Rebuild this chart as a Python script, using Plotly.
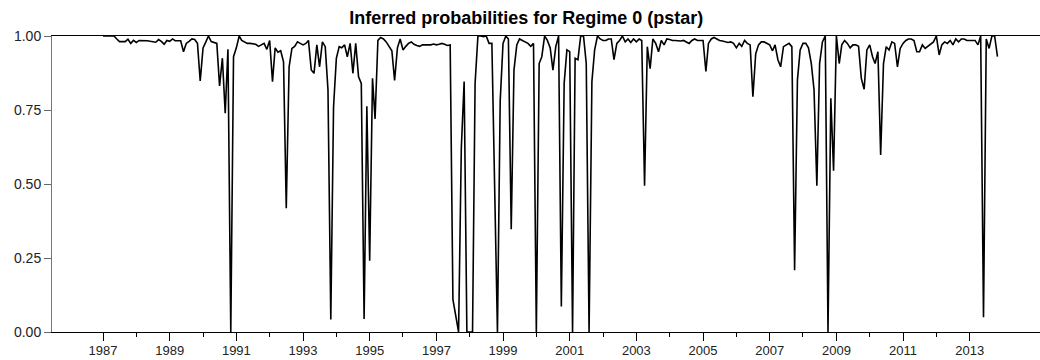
import pandas as pd
import plotly.graph_objects as go

title_text = "Inferred probabilities for Regime 0 (pstar)"
start_month = "1987-01-01"

# Monthly inferred probabilities, 1987:01 - 2013:11 (one list per year)
p1987 = [1.0, 1.0, 1.0, 1.0, 1.0, 0.99, 0.981, 0.981, 0.981, 0.989, 0.975, 0.985]
p1988 = [0.978, 0.985, 0.985, 0.986, 0.984, 0.982, 0.98, 0.979, 0.988, 0.982, 0.972, 0.985]
p1989 = [0.982, 0.99, 0.984, 0.984, 0.984, 0.947, 0.975, 0.982, 0.99, 0.988, 0.975, 0.848]
p1990 = [0.96, 0.98, 1.0, 0.981, 0.978, 0.975, 0.831, 0.925, 0.739, 0.955, 0.0, 0.93]
p1991 = [0.96, 1.0, 0.985, 0.98, 0.975, 0.975, 0.973, 0.972, 0.965, 0.97, 0.975, 0.955]
p1992 = [0.985, 0.846, 0.96, 0.945, 0.95, 0.913, 0.418, 0.896, 0.958, 0.965, 0.98, 0.975]
p1993 = [0.97, 0.975, 0.985, 0.885, 0.874, 0.97, 0.896, 0.98, 0.964, 0.818, 0.042, 0.76]
p1994 = [0.925, 0.964, 0.96, 0.97, 0.93, 0.975, 0.874, 0.975, 0.862, 0.84, 0.044, 0.763]
p1995 = [0.241, 0.857, 0.72, 0.985, 0.995, 0.99, 0.98, 0.965, 0.95, 0.85, 0.96, 0.99]
p1996 = [0.953, 0.965, 0.975, 0.98, 0.972, 0.968, 0.965, 0.97, 0.97, 0.972, 0.97, 0.973]
p1997 = [0.97, 0.972, 0.975, 0.972, 0.968, 0.97, 0.11, 0.055, 0.0, 0.62, 0.846, 0.0]
p1998 = [0.0, 0.0, 0.84, 1.0, 1.0, 0.998, 1.0, 0.975, 0.975, 0.49, 0.0, 0.78]
p1999 = [0.975, 1.0, 0.99, 0.347, 0.885, 0.97, 0.99, 0.985, 0.98, 0.975, 0.965, 0.975]
p2000 = [0.0, 0.907, 0.93, 1.0, 0.985, 0.96, 0.885, 0.964, 1.0, 0.086, 0.84, 0.953]
p2001 = [0.947, 0.0, 0.925, 0.92, 1.0, 1.0, 0.907, 0.0, 0.846, 0.953, 1.0, 0.99]
p2002 = [0.985, 0.985, 0.99, 0.99, 0.92, 0.975, 0.985, 1.0, 0.98, 0.99, 0.978, 0.99]
p2003 = [0.98, 0.99, 0.985, 0.494, 0.964, 0.89, 0.99, 0.975, 0.947, 0.985, 0.97, 0.99]
p2004 = [0.988, 0.985, 0.985, 0.983, 0.983, 0.985, 0.98, 0.975, 0.985, 0.99, 0.985, 0.985]
p2005 = [0.985, 0.88, 0.975, 0.99, 0.995, 0.99, 0.985, 0.983, 0.98, 0.978, 0.98, 0.975]
p2006 = [0.96, 0.975, 0.965, 0.985, 0.975, 0.97, 0.795, 0.94, 0.97, 0.98, 0.98, 0.975]
p2007 = [0.97, 0.95, 0.97, 0.92, 0.896, 0.964, 0.97, 0.975, 0.964, 0.209, 0.851, 0.953]
p2008 = [0.975, 0.975, 0.96, 0.907, 0.818, 0.494, 0.907, 0.98, 1.0, 0.0, 0.79, 0.545]
p2009 = [1.0, 0.907, 0.97, 0.985, 0.975, 0.96, 0.97, 0.97, 0.965, 0.857, 0.82, 0.953]
p2010 = [0.97, 0.93, 0.907, 0.947, 0.598, 0.907, 0.964, 0.953, 0.98, 0.975, 0.896, 0.958]
p2011 = [0.975, 0.985, 0.99, 0.99, 0.985, 0.947, 0.947, 0.97, 0.958, 0.965, 0.975, 0.98]
p2012 = [1.0, 0.936, 0.97, 0.98, 0.975, 0.985, 0.97, 0.99, 0.98, 0.99, 0.99, 0.985]
p2013 = [0.985, 0.985, 0.985, 0.97, 1.0, 0.05, 0.99, 0.958, 1.0, 1.0, 0.93]

pstar = (p1987 + p1988 + p1989 + p1990 + p1991 + p1992 + p1993 + p1994 + p1995
         + p1996 + p1997 + p1998 + p1999 + p2000 + p2001 + p2002 + p2003 + p2004
         + p2005 + p2006 + p2007 + p2008 + p2009 + p2010 + p2011 + p2012 + p2013)

tick_years = list(range(1987, 2014, 2))
minor_years = list(range(1988, 2013, 2))
y_ticks = [0.0, 0.25, 0.5, 0.75, 1.0]

dates = pd.date_range(start_month, periods=len(pstar), freq="MS")

fig = go.Figure()
fig.add_trace(go.Scatter(x=dates, y=pstar, mode="lines",
                         line=dict(color="black", width=1.6),
                         showlegend=False))

fig.update_layout(
    width=1040, height=360,
    margin=dict(l=52, r=0, t=36, b=28),
    paper_bgcolor="white", plot_bgcolor="white",
    font=dict(family="Liberation Sans, Arial, sans-serif", size=13, color="#222"),
    title=dict(text="<b>" + title_text + "</b>", x=0.506, xref="container",
               xanchor="center", y=0.952, yanchor="middle",
               font=dict(size=18, color="black")),
)
fig.update_xaxes(
    type="date",
    range=["1985-06-21", "2015-02-10"],
    tickvals=[pd.Timestamp(f"{y}-01-01") for y in tick_years],
    ticktext=[str(y) for y in tick_years],
    ticks="outside", ticklen=8, tickcolor="black", tickwidth=1,
    ticklabelstandoff=-2,
    minor=dict(ticks="outside", ticklen=4,
               tickvals=[pd.Timestamp(f"{y}-01-01") for y in minor_years],
               tickcolor="black", showgrid=False),
    showline=True, linecolor="black", linewidth=1, mirror=True,
    showgrid=False, zeroline=False,
)
fig.update_yaxes(
    range=[0, 1],
    tickvals=y_ticks, tickformat=".2f",
    tickfont=dict(size=14),
    ticks="outside", ticklen=7, tickcolor="#666",
    showline=True, linecolor="#777", linewidth=1,
    showgrid=False, zeroline=False,
)

fig.write_html("out.html")
